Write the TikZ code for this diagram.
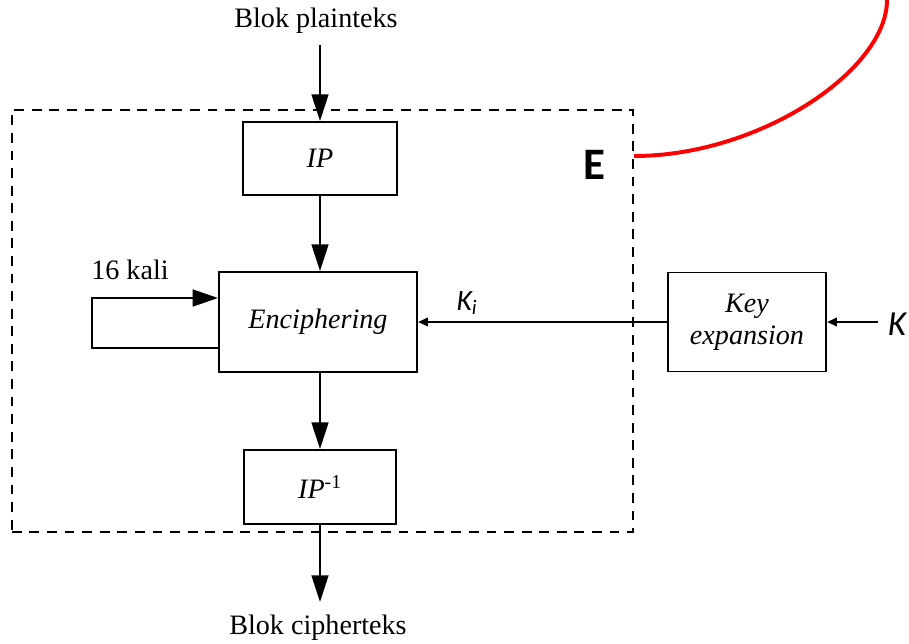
\documentclass[tikz,border=0pt]{standalone}
\usepackage{fontspec}
\setmainfont{Liberation Serif}
\newfontfamily\calfont{Carlito}
\usetikzlibrary{arrows.meta}

\begin{document}
\begin{tikzpicture}[x=0.025cm,y=-0.025cm,
  font=\fontsize{20}{23}\selectfont,
  blok/.style={draw,line width=1.4pt,inner sep=0pt,font=\fontsize{20}{23}\selectfont\itshape},
  arr/.style={line width=1.4pt,-{Triangle[length=19pt,width=12pt]}},
  arrsmall/.style={line width=1.4pt,-{Triangle[length=7pt,width=6pt]}}]
  \useasboundingbox (0,0) rectangle (909,644);
  % dashed frame E
  \node[draw,line width=1.5pt,dash pattern=on 7pt off 5.5pt,
    minimum width=15.525cm,minimum height=10.55cm] (frame) at (322.5,321) {};
  \node[font=\calfont\bfseries\fontsize{32}{34}\selectfont] (elabel) at (594,165) {E};
  % blocks
  \node[blok,minimum width=3.825cm,minimum height=1.825cm] (ip) at (320,158.5) {IP};
  \node[blok,minimum width=4.95cm,minimum height=2.5cm] (enc) at (318,322) {Enciphering};
  \node[blok,minimum width=3.8cm,minimum height=1.85cm] (ipinv) at (320,487) {IP\textsuperscript{\upshape -1}};
  \node[blok,minimum width=3.95cm,minimum height=2.475cm,align=center] (keyexp) at (747,322) {Key\\expansion};
  % texts
  \node[inner sep=0pt,outer sep=0pt] (plain) at (316,21) {Blok plainteks};
  \node[inner sep=0pt] (cipher) at (318,628) {Blok cipherteks};
  \node (kali) at (130,270) {16 kali};
  \node[font=\calfont\itshape\fontsize{21}{24}\selectfont] (ki) at (467,303) {K\textsubscript{i}};
  \node[font=\calfont\itshape\fontsize{25}{28}\selectfont,inner xsep=7pt] (k) at (897,324) {K};
  % connectors
  \coordinate (plainout) at (320,45);
  \coordinate (cipherin) at (320,602);
  \coordinate (loopA) at (92,348);
  \coordinate (loopB) at (92,298);
  \draw[arr] (plainout) -- (ip.north);
  \draw[arr] (ip.south) -- (ip.south |- enc.north);
  \draw[arr] (ipinv.north |- enc.south) -- (ipinv.north);
  \draw[arr] (ipinv.south) -- (cipherin);
  \draw[line width=1.4pt,-{Triangle[length=18pt,width=12pt]}]
    (enc.west |- loopA) -- (loopA) -- (loopB) -- (enc.west |- loopB);
  \draw[arrsmall] (keyexp.west) -- (enc.east);
  \draw[arrsmall] (k.west |- keyexp.east) -- (keyexp.east);
  % red link
  \draw[red,line width=2.8pt] (frame.east |- 0,156) .. controls (760,156) and (887,70) .. (887,0);
\end{tikzpicture}
\end{document}
